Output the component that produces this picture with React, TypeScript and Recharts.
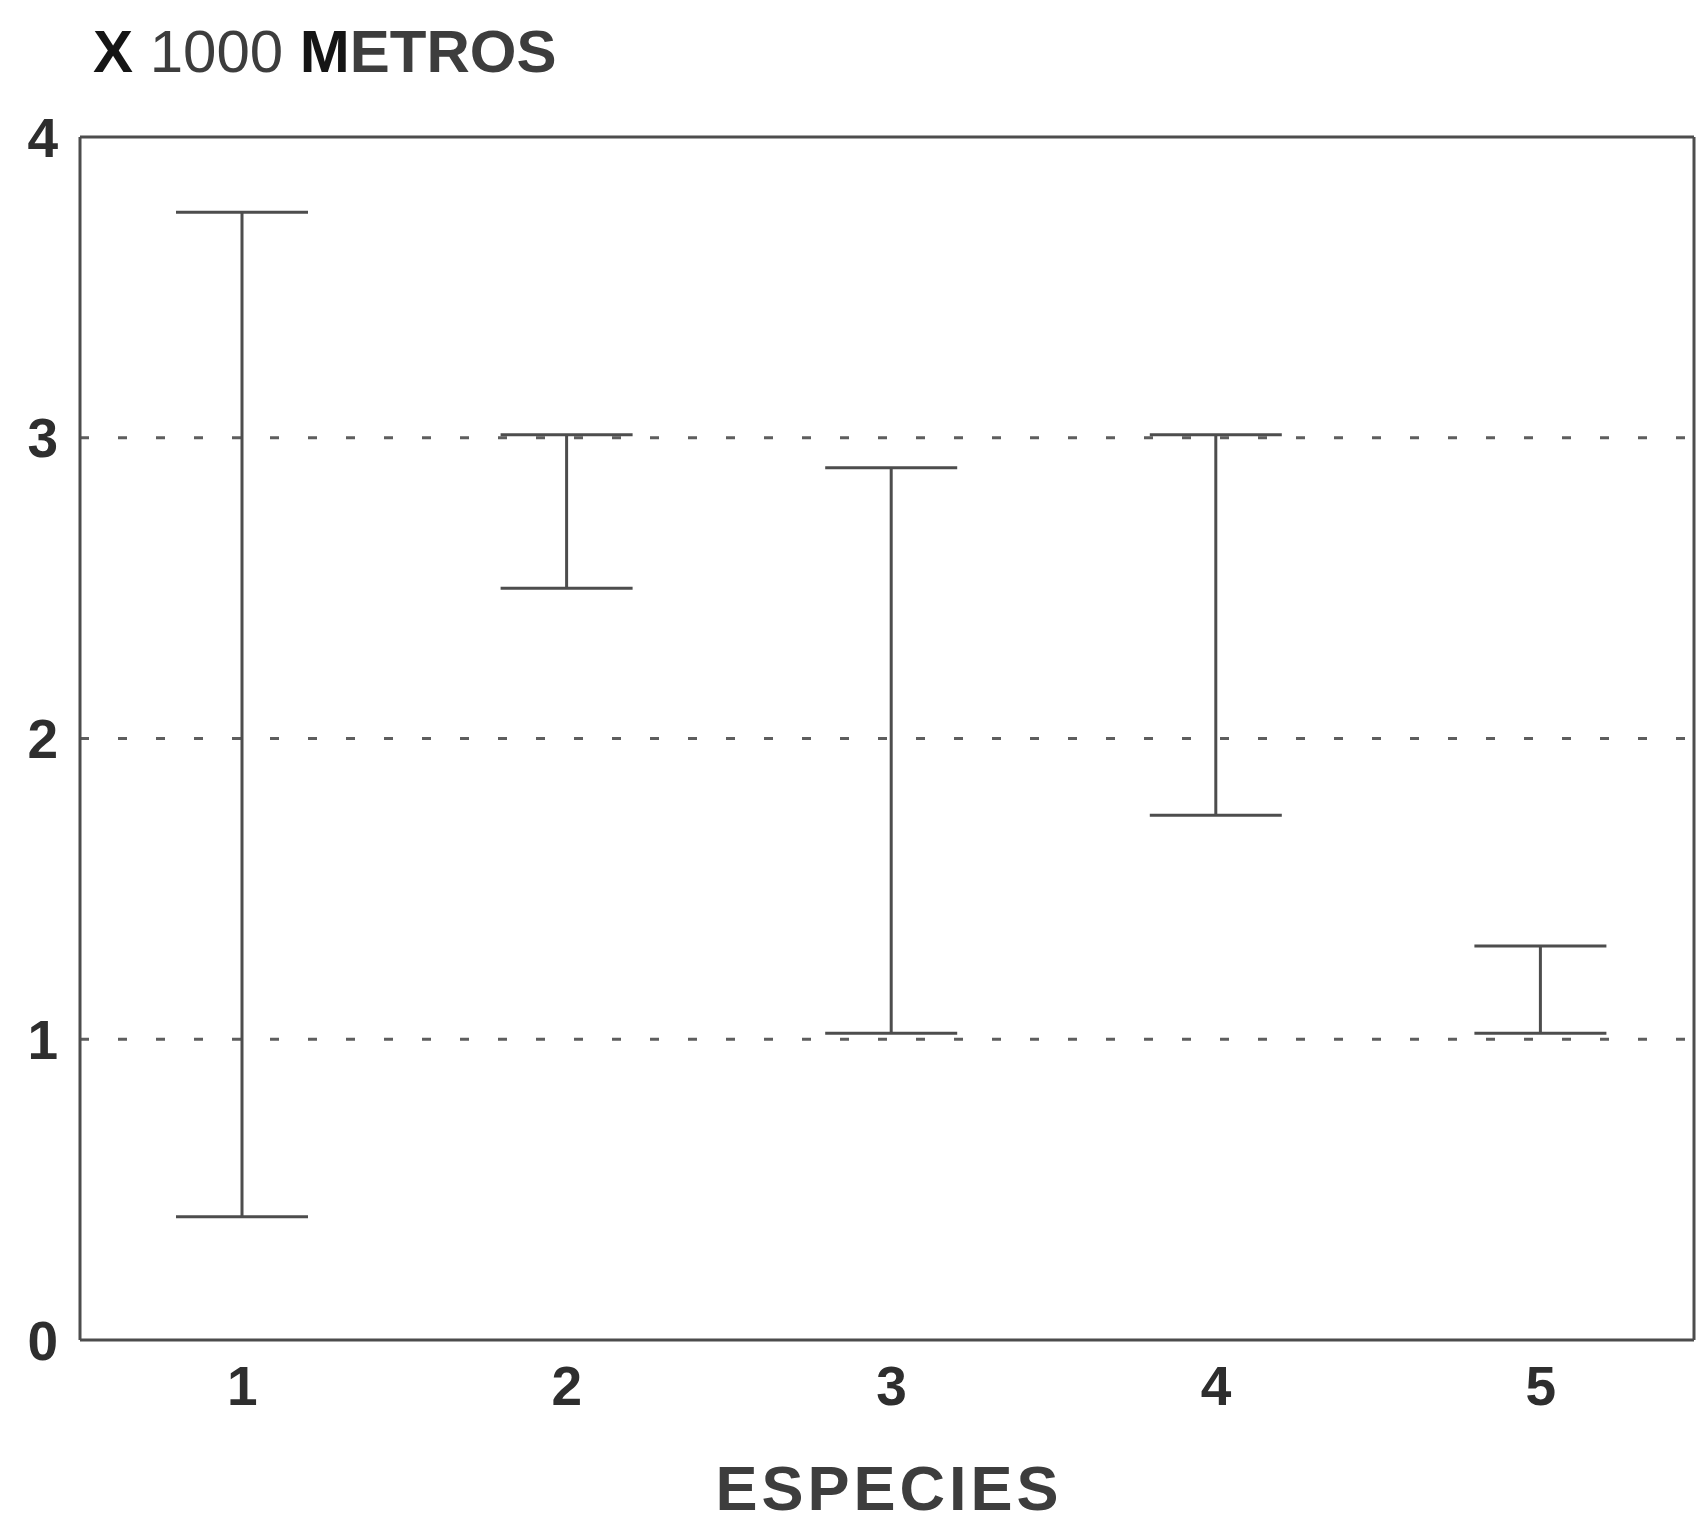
import React from 'react';
import { ComposedChart, Bar, XAxis, YAxis, CartesianGrid } from 'recharts';

const especies = ['1', '2', '3', '4', '5'];
const minimos = [0.41, 2.5, 1.02, 1.745, 1.02];
const maximos = [3.75, 3.01, 2.9, 3.01, 1.31];
const yTicks = [0, 1, 2, 3, 4];

const data = especies.map((e, i) => ({ especie: e, lo: minimos[i], hi: maximos[i] }));

const INK = '#4d4d4d';
const FONT = '"Liberation Sans", Arial, Helvetica, sans-serif';

const IBeam = (props: any) => {
  const { x, y, width, height } = props;
  if (x == null || y == null) return null;
  const cx = x + width / 2;
  const top = Math.min(y, y + height);
  const bot = Math.max(y, y + height);
  const half = 66;
  return (
    <g stroke={INK} strokeWidth={3} fill="none">
      <line x1={cx} y1={top} x2={cx} y2={bot} />
      <line x1={cx - half} y1={top} x2={cx + half} y2={top} />
      <line x1={cx - half} y1={bot} x2={cx + half} y2={bot} />
    </g>
  );
};

const Nothing = () => null;

export default function App() {
  return (
    <div style={{ position: 'absolute', left: 0, top: 0, width: 1697, height: 1529, background: '#fff', overflow: 'hidden' }}>
      <svg width={1697} height={1529} style={{ position: 'absolute', left: 0, top: 0 }}>
        <text x={93} y={72} fontFamily={FONT} fontSize={60} fill="#3d3d3d" style={{ whiteSpace: 'pre' }}>
          <tspan fontWeight="bold" fill="#151515">{'X '}</tspan>
          <tspan>{'1000 '}</tspan>
          <tspan fontWeight="bold" fill="#151515">M</tspan>
          <tspan fontWeight="bold">ETROS</tspan>
        </text>
        <text x={889} y={1510} textAnchor="middle" fontFamily={FONT} fontSize={63} fontWeight="bold" fill="#3d3d3d" letterSpacing={4}>
          ESPECIES
        </text>
      </svg>
      <div style={{ position: 'absolute', left: 0, top: 0 }}>
        <ComposedChart
          width={1697}
          height={1529}
          data={data}
          margin={{ top: 136, right: 2, bottom: 0, left: 0 }}
        >
          <CartesianGrid
            horizontal={true}
            vertical={false}
            stroke="#5e5e5e"
            strokeWidth={3}
            strokeDasharray="9 29"
            horizontalValues={[1, 2, 3]}
          />
          <XAxis
            dataKey="especie"
            type="category"
            height={189}
            padding={{ left: 0, right: -9 }}
            axisLine={{ stroke: INK, strokeWidth: 3 }}
            tickLine={false}
            tickSize={0}
            tickMargin={26}
            tick={{ fontFamily: FONT, fontSize: 55, fontWeight: 'bold', fill: '#2e2e2e' }}
          />
          <XAxis
            xAxisId="top"
            dataKey="especie"
            type="category"
            orientation="top"
            height={1}
            axisLine={{ stroke: INK, strokeWidth: 3 }}
            tick={false}
            tickLine={false}
          />
          <YAxis
            type="number"
            domain={[0, 4]}
            ticks={yTicks}
            width={80}
            interval={0}
            axisLine={{ stroke: INK, strokeWidth: 3 }}
            tickLine={false}
            tickSize={0}
            tickMargin={22}
            tick={{ fontFamily: FONT, fontSize: 55, fontWeight: 'bold', fill: '#2e2e2e' }}
          />
          <YAxis
            yAxisId="right"
            orientation="right"
            type="number"
            domain={[0, 4]}
            width={1}
            axisLine={{ stroke: INK, strokeWidth: 3 }}
            tick={false}
            tickLine={false}
          />
          <Bar
            dataKey={(d: any) => [d.lo, d.hi]}
            barSize={20}
            shape={IBeam}
            isAnimationActive={false}
          />
          <Bar
            xAxisId="top"
            yAxisId="right"
            dataKey={(d: any) => [d.lo, d.hi]}
            barSize={20}
            shape={Nothing}
            isAnimationActive={false}
          />
        </ComposedChart>
      </div>
    </div>
  );
}
